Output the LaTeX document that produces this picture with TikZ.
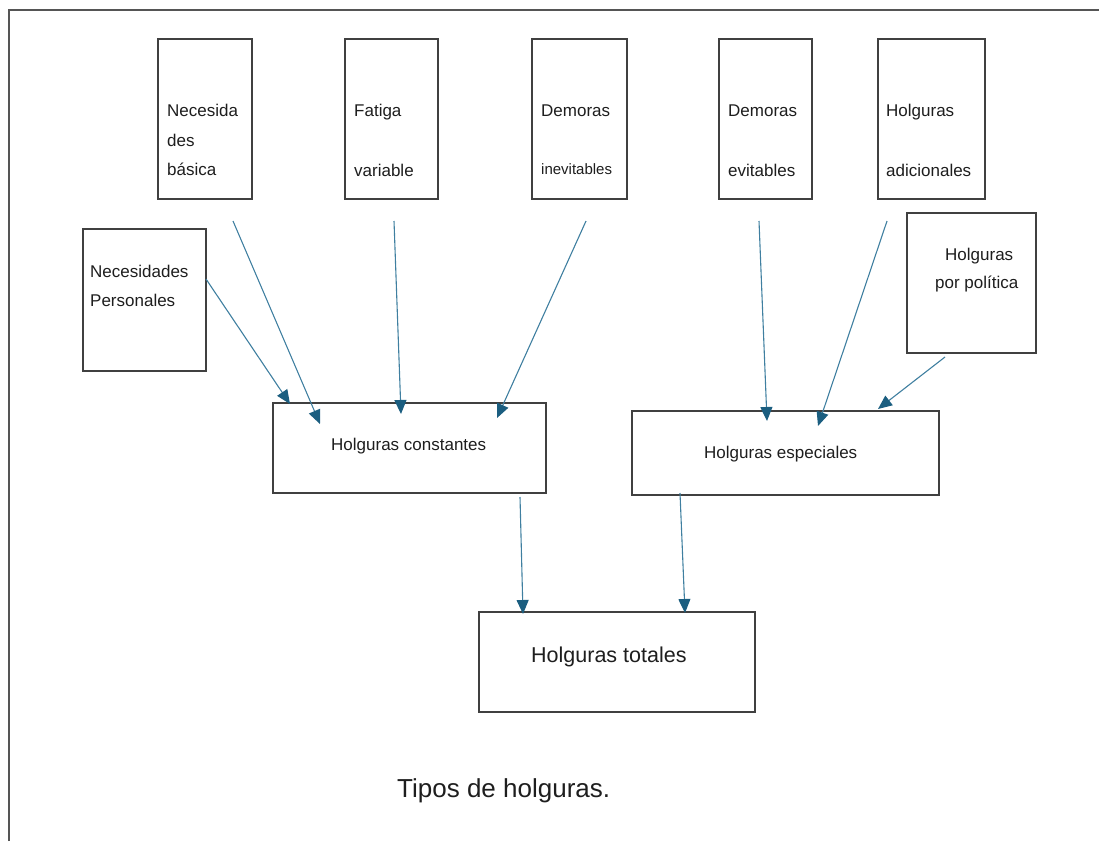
\documentclass[tikz,border=0pt]{standalone}
\usepackage{fontspec}
\setmainfont{Liberation Sans}
\usetikzlibrary{arrows.meta}
\definecolor{framegray}{HTML}{555555}
\definecolor{boxgray}{HTML}{404040}
\definecolor{linkline}{HTML}{3F7FA0}
\definecolor{linkhead}{HTML}{1B5E80}
\definecolor{inkgray}{HTML}{1E1E1E}
\begin{document}
\begin{tikzpicture}[x=1pt,y=-1pt,
  box/.style={draw=boxgray,line width=1.2pt,fill=white,inner sep=0pt,outer sep=0pt},
  lbl/.style={anchor=base west,inner sep=0pt,text=inkgray,font=\fontsize{17}{20}\selectfont},
  small/.style={lbl,font=\fontsize{15}{18}\selectfont},
  big/.style={lbl,font=\fontsize{21.5}{25}\selectfont},
  title/.style={lbl,font=\fontsize{26}{30}\selectfont},
  link/.style={draw=linkline,line width=1.1pt,
    -{Triangle[length=14pt,width=12pt,fill=linkhead,color=linkhead]}}]

\useasboundingbox (0,0) rectangle (1099,841);

% page edge
\draw[framegray,line width=1.2pt] (9,841) -- (9,10) -- (1099,10);

% boxes
\node[box,minimum width=94pt,minimum height=160pt]  (nb) at (205,119) {};
\node[box,minimum width=93pt,minimum height=160pt]  (fv) at (391.5,119) {};
\node[box,minimum width=95pt,minimum height=160pt]  (di) at (579.5,119) {};
\node[box,minimum width=93pt,minimum height=160pt]  (de) at (765.5,119) {};
\node[box,minimum width=107pt,minimum height=160pt] (ha) at (931.5,119) {};
\node[box,minimum width=129pt,minimum height=140pt] (hp) at (971.5,283) {};
\node[box,minimum width=123pt,minimum height=142pt] (np) at (144.5,300) {};
\node[box,minimum width=273pt,minimum height=90pt]  (hc) at (409.5,448) {};
\node[box,minimum width=307pt,minimum height=84pt]  (he) at (785.5,453) {};
\node[box,minimum width=276pt,minimum height=100pt] (ht) at (617,662) {};

% box texts
\node[lbl] (nb1) at (167,116) {Necesida};
\node[lbl] (nb2) at (167,146) {des};
\node[lbl] (nb3) at (167,175) {básica};
\node[lbl] (fv1) at (354,116) {Fatiga};
\node[lbl] (fv2) at (354,176) {variable};
\node[lbl] (di1) at (541,116) {Demoras};
\node[small] (di2) at (541,174) {inevitables};
\node[lbl] (de1) at (728,116) {Demoras};
\node[lbl] (de2) at (728,176) {evitables};
\node[lbl] (ha1) at (886,116) {Holguras};
\node[lbl] (ha2) at (886,176) {adicionales};
\node[lbl] (hp1) at (945,260) {Holguras};
\node[lbl] (hp2) at (935,288) {por política};
\node[lbl] (np1) at (90,277) {Necesidades};
\node[lbl] (np2) at (90,306) {Personales};
\node[lbl] (hc1) at (331,450) {Holguras constantes};
\node[lbl] (he1) at (704,458) {Holguras especiales};
\node[big] (ht1) at (531,662) {Holguras totales};
\node[title] (cap) at (397,797) {Tipos de holguras.};

% connector ends
\coordinate (np-s) at (206,279);  \coordinate (np-t) at (290,404);
\coordinate (nb-s) at (233,221);  \coordinate (nb-t) at (320,424);
\coordinate (fv-s) at (394,221);  \coordinate (fv-t) at (401,414);
\coordinate (di-s) at (586,221);  \coordinate (di-t) at (497,418);
\coordinate (de-s) at (759,221);  \coordinate (de-t) at (767,421);
\coordinate (ha-s) at (887,221);  \coordinate (ha-t) at (818,426);
\coordinate (hp-s) at (945,357);  \coordinate (hp-t) at (878,409);
\coordinate (hc-s) at (520,497);  \coordinate (hc-t) at (523,614);
\coordinate (he-s) at (680,493);  \coordinate (he-t) at (685,613);

% connectors
\draw[link] (np-s) -- (np-t);
\draw[link] (nb-s) -- (nb-t);
\draw[link] (fv-s) -- (fv-t);
\draw[link] (di-s) -- (di-t);
\draw[link] (de-s) -- (de-t);
\draw[link] (ha-s) -- (ha-t);
\draw[link] (hp-s) -- (hp-t);
\draw[link] (hc-s) -- (hc-t);
\draw[link] (he-s) -- (he-t);
\end{tikzpicture}
\end{document}
